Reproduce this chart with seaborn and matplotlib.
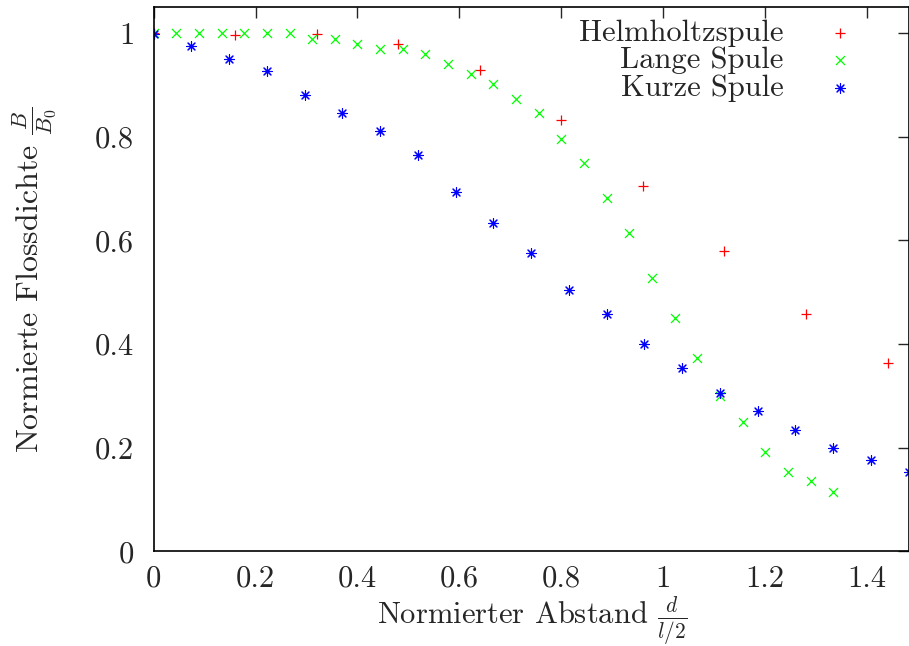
import seaborn as sns
import pandas as pd
import matplotlib.pyplot as plt
from matplotlib.ticker import FuncFormatter

# Helmholtzspule (red +), step 0.16
helm_x = [0, 0.16, 0.32, 0.48, 0.64, 0.80, 0.96, 1.12, 1.28, 1.44]
helm_y = [1.0, 0.996, 0.998, 0.979, 0.928, 0.832, 0.704, 0.580, 0.457, 0.364]

# Lange Spule (green x), step 1/22.5
lang_x = [0, 0.0444, 0.0889, 0.1333, 0.1778, 0.2222, 0.2667, 0.3111, 0.3556, 0.4,
          0.4444, 0.4889, 0.5333, 0.5778, 0.6222, 0.6667, 0.7111, 0.7556, 0.8, 0.8444,
          0.8889, 0.9333, 0.9778, 1.0222, 1.0667, 1.1111, 1.1556, 1.2, 1.2444, 1.2889, 1.3333]
lang_y = [1.0, 0.999, 0.999, 0.999, 0.999, 0.999, 0.999, 0.988, 0.988, 0.979,
          0.968, 0.968, 0.960, 0.940, 0.921, 0.902, 0.873, 0.845, 0.796, 0.749,
          0.681, 0.614, 0.528, 0.451, 0.374, 0.299, 0.249, 0.192, 0.153, 0.135, 0.115]

# Kurze Spule (blue *), step 1/13.5
kurz_x = [0, 0.0741, 0.1481, 0.2222, 0.2963, 0.3704, 0.4444, 0.5185, 0.5926, 0.6667,
          0.7407, 0.8148, 0.8889, 0.9630, 1.0370, 1.1111, 1.1852, 1.2593, 1.3333, 1.4074, 1.4815]
kurz_y = [0.998, 0.974, 0.950, 0.927, 0.880, 0.845, 0.810, 0.764, 0.693, 0.634,
          0.575, 0.504, 0.458, 0.400, 0.353, 0.305, 0.270, 0.235, 0.200, 0.177, 0.153]

sns.set_style("white")
plt.rcParams['font.family'] = 'serif'
plt.rcParams['font.serif'] = ['cmr10']
plt.rcParams['mathtext.fontset'] = 'cm'
plt.rcParams['axes.formatter.use_mathtext'] = True
plt.rcParams['font.size'] = 22

fig = plt.figure(figsize=(9.09, 6.46), dpi=100)
ax = fig.add_axes([0.169, 0.1463, 0.8315, 0.8421])

sns.scatterplot(x=helm_x, y=helm_y, ax=ax, marker='+', s=50, linewidth=0.9,
                color='#ff0000', label='Helmholtzspule')
sns.scatterplot(x=lang_x, y=lang_y, ax=ax, marker='x', s=42, linewidth=0.9,
                color='#00ff00', label='Lange Spule')
sns.scatterplot(x=kurz_x, y=kurz_y, ax=ax, marker=(8, 2, 0), s=50, linewidth=0.8,
                color='#0000ff', label='Kurze Spule')

ax.set_xlim(0, 1.483)
ax.set_ylim(0, 1.049)
ax.set_xticks([0, 0.2, 0.4, 0.6, 0.8, 1.0, 1.2, 1.4])
ax.set_yticks([0, 0.2, 0.4, 0.6, 0.8, 1.0])
fmt = FuncFormatter(lambda v, p: '%g' % v)
ax.xaxis.set_major_formatter(fmt)
ax.yaxis.set_major_formatter(fmt)
ax.tick_params(direction='in', length=8, width=1, top=True, right=True, labelsize=22)
ax.tick_params(axis='y', pad=14)
ax.tick_params(axis='x', pad=10)
for sp in ax.spines.values():
    sp.set_linewidth(1.2)
    sp.set_color('black')

ax.set_xlabel(r'Normierter Abstand $\frac{d}{l/2}$', fontsize=22, labelpad=1)
ax.set_ylabel(r'Normierte Flossdichte $\frac{B}{B_0}$', fontsize=23, labelpad=26)

ax.legend(loc='upper right', bbox_to_anchor=(0.956, 1.018), markerfirst=False, frameon=False,
          labelspacing=0.0, handlelength=1.0, handletextpad=1.34, borderpad=0.2, fontsize=22)

fig.savefig('out.png', dpi=100)
